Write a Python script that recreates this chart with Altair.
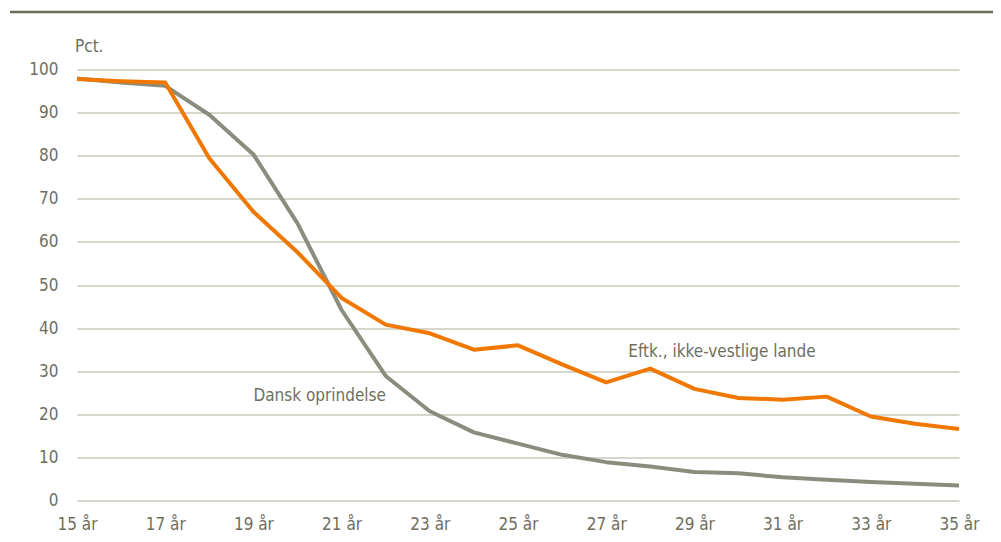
import altair as alt
import pandas as pd

ages = list(range(15, 36))
dansk = [97.9, 97.0, 96.2, 89.5, 80.3, 64.3, 44.2, 28.9, 20.7, 15.8, 13.2,
         10.6, 8.9, 7.9, 6.6, 6.3, 5.4, 4.8, 4.3, 3.9, 3.5]
ikkevest = [97.8, 97.3, 97.0, 79.4, 67.0, 57.6, 47.0, 40.8, 38.8, 35.0, 36.0,
            31.6, 27.4, 30.6, 25.9, 23.8, 23.4, 24.1, 19.5, 17.8, 16.6]
series_names = ["Dansk oprindelse", "Eftk., ikke-vestlige lande"]
series_colors = ["#8c8c7e", "#f07800"]
tick_years = list(range(15, 36, 2))
y_ticks = list(range(0, 101, 10))

label_x = [19, 27.5]
label_y = [24.3, 34.5]

FONT = "DejaVu Sans Condensed, Liberation Sans, sans-serif"
FS = 17
TXT = "#6e6e60"

rows = []
for name, vals in zip(series_names, [dansk, ikkevest]):
    for a, v in zip(ages, vals):
        rows.append({"alder": a, "pct": v, "serie": name})
df = pd.DataFrame(rows)

lab_df = pd.DataFrame({"alder": label_x, "pct": label_y, "tekst": series_names})

x_enc = alt.X("alder:Q", scale=alt.Scale(domain=[15, 35], nice=False, zero=False),
              axis=alt.Axis(values=tick_years, labelExpr="datum.value + ' år'",
                            grid=False, domain=False, ticks=False, title=None,
                            labelFont=FONT, labelFontSize=FS, labelColor=TXT,
                            labelPadding=16, labelFlush=False))
y_enc = alt.Y("pct:Q", scale=alt.Scale(domain=[0, 100], nice=False),
              axis=alt.Axis(values=y_ticks, grid=True, gridColor="#c8c8bc", gridWidth=1.5,
                            domain=False, ticks=False, title=None,
                            labelFont=FONT, labelFontSize=FS, labelColor=TXT,
                            labelPadding=19))

lines = alt.Chart(df).mark_line(strokeWidth=4, strokeJoin="round").encode(
    x=x_enc, y=y_enc,
    color=alt.Color("serie:N", scale=alt.Scale(domain=series_names, range=series_colors), legend=None),
    order=alt.Order("alder:Q"),
)

labels = alt.Chart(lab_df).mark_text(align="left", baseline="middle", font=FONT,
                                     fontSize=FS, color=TXT).encode(
    x="alder:Q", y="pct:Q", text="tekst:N")

pct = alt.Chart(pd.DataFrame({"t": ["Pct."]})).mark_text(
    align="left", baseline="middle", font=FONT, fontSize=FS, color=TXT).encode(
    x=alt.value(-2), y=alt.value(-23), text="t:N")

topline = alt.Chart(pd.DataFrame({"a": [0]})).mark_rule(color="#6b6b5a", strokeWidth=2.5).encode(
    x=alt.value(-67), x2=alt.value(916), y=alt.value(-57.5))

chart = alt.layer(topline, lines, labels, pct).properties(
    width=882, height=431,
    autosize=alt.AutoSizeParams(type="none"),
    padding={"left": 69, "top": 61.5, "right": 34, "bottom": 41},
).configure_view(stroke=None)

chart.save("out.html", embed_options={"renderer": "svg", "actions": False})
